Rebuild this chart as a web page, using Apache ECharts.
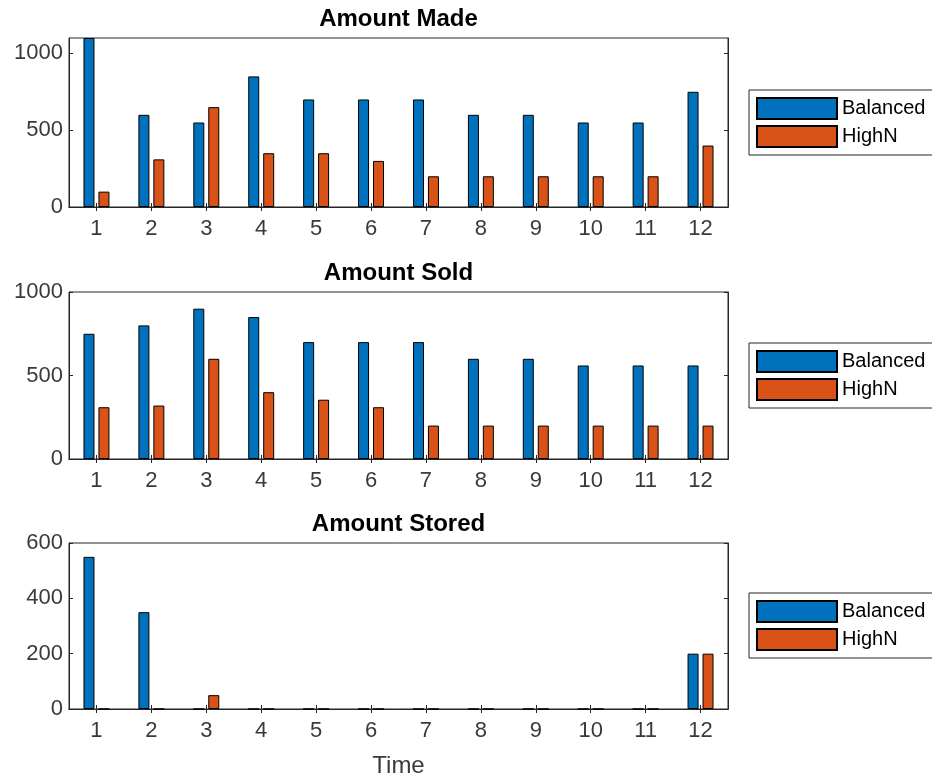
<!DOCTYPE html>
<html>
<head>
<meta charset="utf-8">
<script src="https://cdn.jsdelivr.net/npm/echarts@6/dist/echarts.min.js"></script>
<style>html,body{margin:0;padding:0;background:#fff}#c{width:932px;height:779px}</style>
</head>
<body>
<div id="c"></div>
<script>
const categories = ['1','2','3','4','5','6','7','8','9','10','11','12'];
const seriesNames = ['Balanced', 'HighN'];
const panelTitles = ['Amount Made', 'Amount Sold', 'Amount Stored'];
const xAxisTitle = 'Time';

const madeBalanced = [1100, 600, 550, 850, 700, 700, 700, 600, 600, 550, 550, 750];
const madeHighN    = [100, 310, 650, 350, 350, 300, 200, 200, 200, 200, 200, 400];
const soldBalanced = [750, 800, 900, 850, 700, 700, 700, 600, 600, 560, 560, 560];
const soldHighN    = [310, 320, 600, 400, 355, 310, 200, 200, 200, 200, 200, 200];
const storedBalanced = [550, 350, 0, 0, 0, 0, 0, 0, 0, 0, 0, 200];
const storedHighN    = [0, 0, 50, 0, 0, 0, 0, 0, 0, 0, 0, 200];

const yMaxes = [1100, 1000, 600];
const yTicksMade = [0, 500, 1000];
const yTicksSold = [0, 500, 1000];
const yTicksStored = [0, 200, 400, 600];

const panelData = [[madeBalanced, madeHighN], [soldBalanced, soldHighN], [storedBalanced, storedHighN]];
const panelTicks = [yTicksMade, yTicksSold, yTicksStored];

const colors = ['#0072BD', '#D95319'];
const axisColor = '#262626';
const labelColor = '#3a3a3a';
const font = "'Liberation Sans', Arial, Helvetica, sans-serif";

const grids = [
  {left: 69, top: 38, width: 659, height: 169},
  {left: 69, top: 292, width: 659, height: 167},
  {left: 69, top: 543, width: 659, height: 166}
];
const legendTops = [90, 343, 593];

const option = {
  animation: false,
  backgroundColor: '#fff',
  textStyle: {fontFamily: font},
  grid: grids.map(g => Object.assign({show: true, borderColor: axisColor, borderWidth: 1, backgroundColor: '#fff'}, g)),
  xAxis: [],
  yAxis: [],
  legend: [],
  series: []
};

for (let p = 0; p < 3; p++) {
  option.xAxis.push({
    type: 'category', gridIndex: p, data: categories, position: 'bottom',
    axisLine: {show: true, lineStyle: {color: axisColor, width: 1}},
    axisTick: {show: true, inside: true, length: 4, alignWithLabel: true, lineStyle: {color: axisColor}},
    axisLabel: {interval: 0, margin: 11, color: labelColor, fontSize: 22, fontFamily: font},
    name: p === 2 ? xAxisTitle : '', nameLocation: 'middle', nameGap: 45,
    nameTextStyle: {color: labelColor, fontSize: 24, fontFamily: font}
  });
  option.xAxis.push({
    type: 'category', gridIndex: p, data: categories, position: 'top',
    axisLine: {show: true, lineStyle: {color: axisColor, width: 1}},
    axisTick: {show: true, inside: true, length: 4, alignWithLabel: true, lineStyle: {color: axisColor}},
    axisLabel: {show: false},
    name: panelTitles[p], nameLocation: 'middle', nameGap: 7,
    nameTextStyle: {color: '#000', fontSize: 24, fontWeight: 'bold', fontFamily: font, verticalAlign: 'bottom'}
  });
  const ticks = panelTicks[p];
  option.yAxis.push({
    type: 'value', gridIndex: p, min: 0, max: yMaxes[p], position: 'left',
    splitLine: {show: false},
    axisLine: {show: true, lineStyle: {color: axisColor, width: 1}},
    axisTick: {show: true, inside: true, length: 4, customValues: ticks, lineStyle: {color: axisColor}},
    axisLabel: {margin: 6, color: labelColor, fontSize: 22, fontFamily: font, customValues: ticks,
                formatter: v => String(v)}
  });
  option.yAxis.push({
    type: 'value', gridIndex: p, min: 0, max: yMaxes[p], position: 'right',
    splitLine: {show: false},
    axisLine: {show: true, lineStyle: {color: axisColor, width: 1}},
    axisTick: {show: true, inside: true, length: 4, customValues: ticks, lineStyle: {color: axisColor}},
    axisLabel: {show: false}
  });
  option.legend.push({
    data: seriesNames, left: 749, top: legendTops[p], orient: 'vertical',
    icon: 'rect', itemWidth: 80, itemHeight: 21, itemGap: 5,
    padding: [7, 40, 7, 7], borderColor: axisColor, borderWidth: 1, backgroundColor: '#fff',
    selectedMode: false,
    textStyle: {color: '#000', fontSize: 20, fontFamily: font, lineHeight: 22}
  });
  for (let s = 0; s < 2; s++) {
    option.series.push({
      type: 'bar', name: seriesNames[s], xAxisIndex: p * 2, yAxisIndex: p * 2,
      data: panelData[p][s], barWidth: 11, barGap: '36%',
      itemStyle: {color: colors[s], borderColor: '#000', borderWidth: 1},
      emphasis: {disabled: true}
    });
  }
}

const chart = echarts.init(document.getElementById('c'), null, {renderer: 'canvas'});
chart.setOption(option);
</script>
</body>
</html>
